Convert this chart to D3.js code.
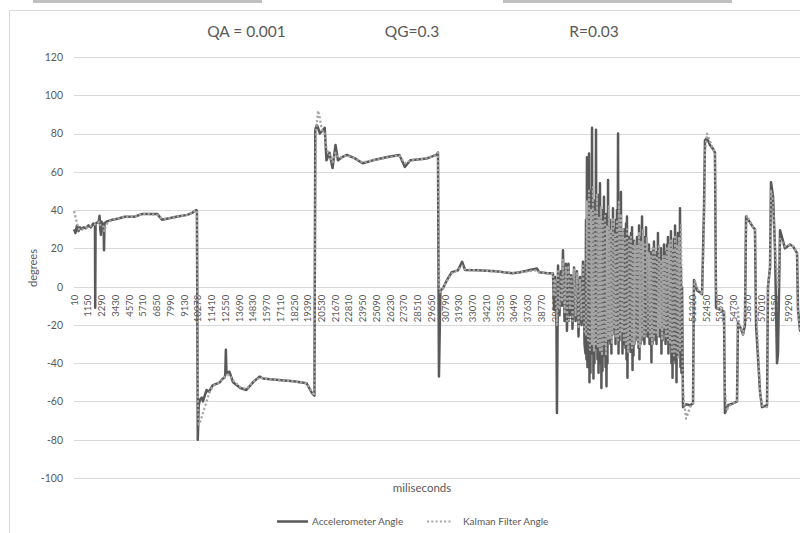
<!DOCTYPE html>
<html>
<head>
  <meta charset="utf-8">
  <title>Kalman filter</title>
  <style>
    body { margin: 0; background: #fff; }
    svg { display: block; }
    text { fill: #595959; }
  </style>
</head>
<body>
  <svg width="800" height="533"></svg>
  <script src="https://cdnjs.cloudflare.com/ajax/libs/d3/7.8.5/d3.min.js"></script>
  <script>
    // chart values, [miliseconds, degrees]
    const titleParts = ["QA = 0.001", "QG=0.3", "R=0.03"];
    const seriesNames = ["Accelerometer Angle", "Kalman Filter Angle"];
    const yTicks = [-100, -80, -60, -40, -20, 0, 20, 40, 60, 80, 100, 120];
    const xTickLabels = [10, 1150, 2290, 3430, 4570, 5710, 6850, 7990, 9130, 10270, 11410, 12550,
      13690, 14830, 15970, 17110, 18250, 19390, 20530, 21670, 22810, 23950, 25090, 26230, 27370,
      28510, 29650, 30790, 31930, 33070, 34210, 35350, 36490, 37630, 38770, 39910, 41050, 42190,
      43330, 44470, 45610, 46750, 47890, 49030, 50170, 51310, 52450, 53590, 54730, 55870, 57010,
      58150, 59290];

    const accel = [
      [10, 30], [120, 28], [250, 32], [380, 29], [500, 31], [650, 30], [800, 31], [1000, 30.5],
      [1200, 32], [1400, 31], [1600, 33], [1740, 32], [1760, -11], [1790, 33], [2050, 34], [2120, 37],
      [2180, 30], [2230, 27], [2280, 34], [2460, 32], [2490, 19], [2530, 33], [2700, 34], [3200, 35],
      [3600, 35.5], [4200, 36.5], [5000, 36.5], [5700, 38], [6200, 38], [6900, 38], [7300, 35],
      [7700, 35.5], [8500, 36.5], [9400, 37.5], [9800, 38.5], [10000, 39.5], [10150, 40], [10200, 39.5],
      [10270, -80], [10350, -62], [10450, -59], [10600, -58], [10700, -60], [11000, -54], [11200, -55],
      [11500, -51.6], [12100, -50], [12350, -48], [12500, -47.5], [12550, -46], [12600, -33], [12650, -45],
      [12900, -44.5], [13200, -50], [13800, -53], [14300, -54], [14850, -50], [15400, -47], [15700, -48],
      [16500, -48.5], [18200, -49.5], [19300, -50.5], [19750, -55.7], [19950, -57], [20020, 82],
      [20150, 84.4], [20250, 83], [20400, 80], [20800, 83], [20950, 66], [21200, 70], [21450, 62],
      [21700, 74], [21900, 66], [22200, 67.5], [22650, 68.8], [23300, 67], [23950, 64.5], [24800, 66],
      [26000, 67.7], [27000, 68.8], [27450, 62.5], [27900, 66], [29300, 67], [30100, 69], [30200, 70],
      [30280, -47], [30400, -2], [30600, -1], [30950, 3.5], [31350, 7.6], [31850, 8.5], [32200, 13],
      [32450, 8.7], [33500, 8.5], [35000, 8], [36400, 7], [37000, 7.5], [38400, 9.5], [38600, 7.5],
      [39300, 7], [39740, 7], [39830, -12], [39910, 5], [40030, -20], [40070, -66], [40160, 11],
      [40280, -15], [40410, 8], [40490, -10], [40570, 19], [40700, -18], [40820, 12], [40900, -23],
      [41030, 12], [41150, -15], [41240, 6], [41360, -22], [41490, 10], [41610, -18], [41730, 8],
      [41860, -26], [41980, 5], [42110, -20], [42230, 13], [42360, -30],
      [42440, -35], [42480, 35], [42520, -38], [42560, 67.6], [42600, -42], [42650, 45], [42690, -40],
      [42730, 69.6], [42770, -50], [42810, 40], [42850, -45], [42900, 50], [42940, -35], [42980, 83],
      [43020, -30], [43060, 38], [43100, -48], [43140, 45], [43180, -40], [43230, 35], [43270, -32],
      [43310, 82], [43350, -25], [43390, 42], [43430, -38], [43480, 30], [43520, -45], [43560, 48],
      [43600, -40], [43640, 54], [43680, -30], [43720, 35], [43760, -53], [43810, 28], [43850, -44],
      [43890, 40], [43930, -36], [43970, 47], [44010, -35], [44060, 30], [44100, -42], [44140, 38],
      [44180, -52], [44220, 25], [44260, -40], [44310, 55.7], [44350, -20], [44390, 32], [44430, -28],
      [44470, 35], [44510, -30], [44550, 28], [44590, -35], [44640, 20], [44680, -25], [44720, 41],
      [44760, -15], [44800, 30], [44840, -22], [44890, 25], [44930, -30], [44970, 35], [45010, -26],
      [45050, 40], [45090, -18], [45140, 80], [45180, -35], [45220, 30], [45260, -28], [45300, 36],
      [45340, -22], [45380, 49.5], [45420, -20], [45470, 28], [45510, -35], [45550, 18], [45590, -30],
      [45630, 30], [45670, -25], [45720, 22], [45760, -32], [45800, 33], [45840, -38], [45880, 36.6],
      [45920, -47.6], [45970, 20], [46010, -30], [46050, 26], [46090, -28], [46130, 18], [46170, -34],
      [46210, 28], [46250, -25], [46300, 31], [46340, -43.6], [46380, 15], [46420, -36], [46460, 24],
      [46500, -30], [46550, 18], [46590, -22], [46630, 22.6], [46670, -20], [46710, 26], [46750, -28],
      [46800, 20], [46840, -32], [46880, 32], [46920, -38], [46960, 18], [47000, -30], [47040, 26],
      [47080, -22], [47130, 36.6], [47170, -25], [47210, 22], [47250, -28], [47290, 18], [47330, -30],
      [47380, 26], [47420, -24], [47460, 31], [47500, -20], [47540, 20], [47580, -26], [47620, 16],
      [47660, -25], [47710, 22], [47750, -30], [47790, 12], [47830, -28], [47870, 18], [47910, -39.5],
      [47960, 10], [48000, -30], [48040, 20], [48080, -22], [48120, 23.6], [48160, -25], [48210, 14],
      [48250, -28], [48290, 18], [48330, -30], [48370, 10], [48410, -24], [48450, 28], [48490, -20],
      [48540, 16], [48580, -26], [48620, 12], [48660, -25], [48700, 20], [48740, -35], [48790, 8],
      [48830, -28], [48870, 16], [48910, -20], [48950, 22], [48990, -24], [49040, 14], [49080, -30],
      [49120, 18], [49160, -26], [49200, 22], [49240, -28], [49280, 26], [49320, -35], [49370, 15],
      [49410, -30], [49450, 22], [49490, -26], [49530, 29], [49570, -40], [49620, 18], [49660, -47.6],
      [49700, 12], [49740, -38], [49780, 25], [49820, -32], [49870, 32], [49910, -40], [49950, 20],
      [49990, -50], [50030, 15], [50070, -36], [50110, 28], [50150, -30], [50200, 22], [50240, -34],
      [50280, 41], [50320, -42], [50360, 10], [50400, -45], [50450, 0],
      [50530, -63], [50780, -61.5], [51110, -62],
      [51360, -61], [51440, 3.5], [51520, 2], [51690, -2], [51940, -3], [52110, -4], [52270, 40],
      [52350, 76.6], [52520, 77.6], [52770, 74], [53020, 72], [53180, 70], [53270, -11], [53600, -12],
      [53930, -13], [54010, -66], [54260, -62], [54680, -61], [55010, -60], [55090, -19], [55340, -22],
      [55510, -25], [55670, -20], [55760, 36.6], [55920, 35], [56090, 33.6], [56340, 31], [56500, 30],
      [56590, -20], [56920, -55], [57080, -63], [57500, -62], [57580, 0], [57750, 10], [57830, 54.6],
      [58000, 47], [58160, 20], [58330, -40], [58410, -35], [58580, 29.5], [58990, 20], [59410, 22],
      [59660, 21], [59990, 17.5], [60070, -12], [60240, -23], [60490, -23]
    ];

    const kalman = [
      [10, 39.5], [100, 37], [250, 33], [400, 30], [550, 29.5], [700, 30], [900, 30.5], [1100, 31],
      [1300, 31.5], [1500, 32], [1740, 32.5], [1900, 33], [2100, 34], [2200, 32], [2300, 31],
      [2450, 31.5], [2520, 29], [2650, 32], [2800, 33.5], [3200, 35], [3600, 35.5], [4200, 36.5],
      [5000, 36.5], [5700, 38], [6200, 38], [6900, 37.5], [7300, 35.5], [7700, 35.5], [8500, 36.5],
      [9400, 37.5], [9800, 38.5], [10000, 39.5], [10150, 40], [10200, 39.5], [10280, -60], [10350, -72],
      [10450, -71], [10600, -68], [11000, -60], [11200, -56], [11500, -52], [12100, -50], [12350, -48],
      [12550, -47], [12650, -46.5], [12900, -46], [13200, -49], [13800, -52.5], [14300, -53.5],
      [14850, -50], [15400, -47.5], [15700, -48], [16500, -48.5], [18200, -49.5], [19300, -50.5],
      [19750, -55], [19950, -57], [20030, 60], [20100, 82], [20250, 92], [20400, 88], [20550, 82],
      [20800, 80], [20950, 72], [21200, 69], [21450, 65], [21700, 70], [21900, 67.5], [22200, 67.5],
      [22650, 68.5], [23300, 67], [23950, 65], [24800, 66], [26000, 67.5], [27000, 68.5], [27450, 64.5],
      [27900, 66], [29300, 67], [30100, 69], [30200, 70], [30300, 0], [30380, -3], [30450, -2],
      [30600, -1], [30950, 3], [31350, 7], [31850, 8.5], [32200, 11], [32450, 9], [33500, 8.5],
      [35000, 8], [36400, 7.2], [37000, 7.5], [38400, 8.5], [38600, 7.5], [39300, 7], [39740, 7],
      [39830, -5], [39910, 4], [40030, -12], [40070, -20], [40160, 8], [40280, -12], [40410, 6],
      [40490, -8], [40570, 14], [40700, -14], [40820, 10], [40900, -18], [41030, 11], [41150, -12],
      [41240, 5], [41360, -18], [41490, 9], [41610, -15], [41730, 7], [41860, -22], [41980, 4],
      [42110, -17], [42230, 11], [42360, -24],
      [42480, -25], [42560, 45], [42650, -28], [42730, 50], [42810, -33], [42900, 40], [42980, -30],
      [43060, 52], [43140, -34], [43230, 40], [43310, -30], [43390, 48], [43480, -32], [43560, 36],
      [43640, -34], [43720, 42], [43810, -36], [43890, 34], [43970, -30], [44060, 38], [44140, -36],
      [44220, 32], [44310, -28], [44390, 42], [44470, -27], [44550, 30], [44640, -30], [44720, 36],
      [44800, -22], [44890, 28], [44970, -26], [45050, 34], [45140, -28], [45220, 45], [45300, -26],
      [45380, 38], [45470, -24], [45550, 30], [45630, -28], [45720, 26], [45800, -30], [45880, 30],
      [45970, -34], [46050, 24], [46130, -30], [46210, 26], [46300, -32], [46380, 22], [46460, -30],
      [46550, 24], [46630, -26], [46710, 22], [46800, -30], [46880, 28], [46960, -32], [47040, 24],
      [47130, -26], [47210, 30], [47290, -26], [47380, 22], [47460, -24], [47540, 26], [47620, -24],
      [47710, 18], [47790, -26], [47870, 16], [47960, -30], [48040, 20], [48120, -26], [48210, 20],
      [48290, -24], [48370, 16], [48450, -26], [48540, 22], [48620, -22], [48700, 14], [48790, -28],
      [48870, 16], [48950, -22], [49040, 16], [49120, -26], [49200, 20], [49280, -28], [49370, 22],
      [49450, -30], [49530, 24], [49620, -34], [49700, 20], [49780, -36], [49870, 26], [49950, -34],
      [50030, 22], [50110, -38], [50200, 26], [50280, -34], [50360, 32], [50450, -20],
      [50530, -55], [50780, -69], [50950, -66], [51110, -63], [51360, -61],
      [51440, 0], [51520, 3], [51690, -1], [51940, -3], [52110, -4], [52270, 30], [52350, 70],
      [52520, 80], [52770, 76], [53020, 72], [53180, 70], [53270, 0], [53430, -12], [53600, -12],
      [53930, -13], [54010, -55], [54180, -65], [54260, -63], [54680, -61], [55010, -60], [55090, -10],
      [55180, -20], [55340, -22], [55510, -25], [55670, -15], [55760, 30], [55840, 37], [55920, 36],
      [56090, 34], [56340, 31], [56500, 30], [56590, -10], [56920, -55], [57080, -62], [57500, -63],
      [57580, 0], [57750, 10], [57830, 50], [58000, 45], [58160, 20], [58330, 5], [58410, 0],
      [58580, 25], [58990, 21], [59410, 22], [59660, 21], [59990, 18], [60070, -15], [60240, -22],
      [60490, -24]
    ];

    const svg = d3.select("svg");
    const width = 800, height = 533;
    const plot = { left: 74, top: 57, bottom: 478 };

    // bits of the window above the chart
    svg.append("rect").attr("x", 33).attr("y", 0).attr("width", 229).attr("height", 3).attr("fill", "#c0c0c0");
    svg.append("rect").attr("x", 503).attr("y", 0).attr("width", 229).attr("height", 3).attr("fill", "#c0c0c0");

    // chart area border
    svg.append("rect")
       .attr("x", 9.5).attr("y", 10.5)
       .attr("width", 900).attr("height", 600)
       .attr("fill", "#fff").attr("stroke", "#d9d9d9");

    const x = d3.scaleLinear().domain([0, 61000]).range([plot.left, plot.left + 61000 / 82.97]);
    const y = d3.scaleLinear().domain([-100, 120]).range([plot.bottom, plot.top]);

    // gridlines
    svg.append("g")
       .selectAll("line")
       .data(yTicks)
       .enter().append("line")
       .attr("x1", plot.left).attr("x2", width)
       .attr("y1", d => Math.round(y(d)) + 0.5)
       .attr("y2", d => Math.round(y(d)) + 0.5)
       .attr("stroke", "#d9d9d9");

    // y axis labels
    const yAxis = d3.axisLeft(y).tickValues(yTicks).tickFormat(d => String(d)).tickSize(0).tickPadding(0);
    svg.append("g")
       .attr("transform", "translate(63,0)")
       .call(yAxis)
       .call(g => g.select(".domain").remove())
       .selectAll("text")
       .style("font-family", "Lato, sans-serif")
       .style("font-size", "10.5px")
       .style("fill", "#595959");

    // category labels, sitting under the 0 line
    const xAxis = d3.axisBottom(x).tickValues(xTickLabels).tickFormat(d => d).tickSize(0);
    svg.append("g")
       .attr("transform", "translate(0," + y(0) + ")")
       .call(xAxis)
       .call(g => g.select(".domain").remove())
       .selectAll("text")
       .attr("transform", "rotate(-90)")
       .attr("x", -8).attr("y", 0).attr("dy", "0.32em")
       .style("text-anchor", "end")
       .style("font-family", "'Liberation Sans Narrow', Lato, sans-serif")
       .style("font-size", "9.5px")
       .style("fill", "#595959");

    const line = d3.line().x(d => x(d[0])).y(d => y(d[1]));

    svg.append("path")
       .datum(accel)
       .attr("d", line)
       .attr("fill", "none")
       .attr("stroke", "#595959")
       .attr("stroke-width", 2.5)
       .attr("stroke-linejoin", "round");

    svg.append("path")
       .datum(kalman)
       .attr("d", line)
       .attr("fill", "none")
       .attr("stroke", "#a5a5a5")
       .attr("stroke-width", 2.2)
       .attr("stroke-dasharray", "2.2 2.2")
       .attr("stroke-linejoin", "round");

    // title
    const titleX = [246.5, 412, 594];
    svg.selectAll(".title")
       .data(titleParts)
       .enter().append("text")
       .attr("class", "title")
       .attr("x", (d, i) => titleX[i]).attr("y", 37)
       .attr("text-anchor", "middle")
       .style("font-family", "Lato, sans-serif")
       .style("font-size", "15.5px")
       .text(d => d);

    // axis titles
    svg.append("text")
       .attr("transform", "translate(37,268) rotate(-90)")
       .attr("text-anchor", "middle")
       .style("font-family", "Lato, sans-serif")
       .style("font-size", "11px")
       .text("degrees");

    svg.append("text")
       .attr("x", 422).attr("y", 492)
       .attr("text-anchor", "middle")
       .style("font-family", "Lato, sans-serif")
       .style("font-size", "11.5px")
       .text("miliseconds");

    // legend
    const legend = svg.append("g").attr("transform", "translate(0,521.5)");
    legend.append("line").attr("x1", 277).attr("x2", 308)
          .attr("stroke", "#595959").attr("stroke-width", 2.5);
    legend.append("text").attr("x", 312).attr("dy", "0.35em")
          .style("font-family", "Lato, sans-serif").style("font-size", "10px")
          .text(seriesNames[0]);
    legend.append("line").attr("x1", 427).attr("x2", 452)
          .attr("stroke", "#a5a5a5").attr("stroke-width", 2)
          .attr("stroke-dasharray", "2 2.3");
    legend.append("text").attr("x", 463).attr("dy", "0.35em")
          .style("font-family", "Lato, sans-serif").style("font-size", "10px")
          .text(seriesNames[1]);
  </script>
</body>
</html>
